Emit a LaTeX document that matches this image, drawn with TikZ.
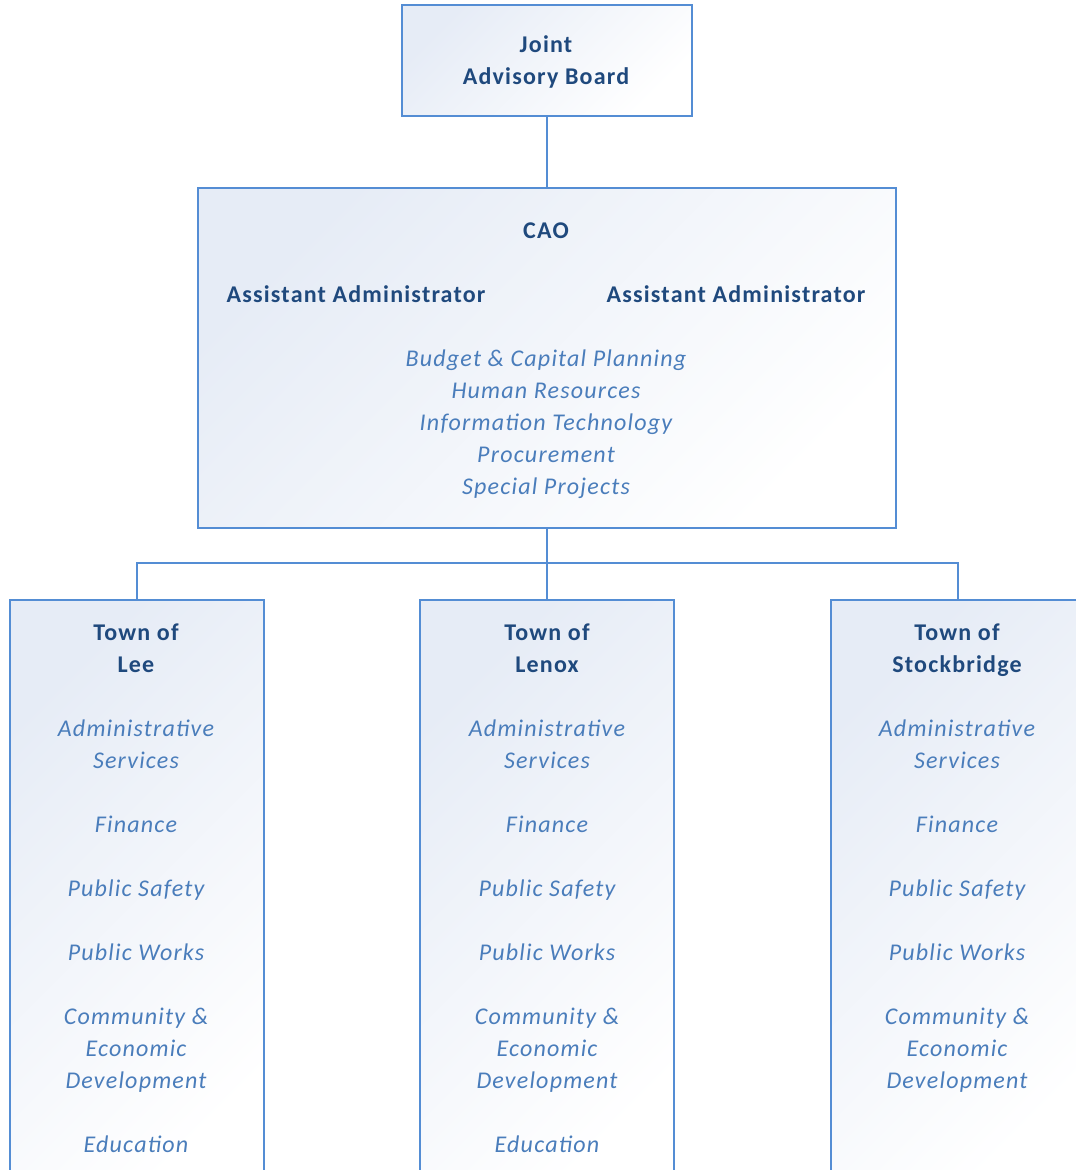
\documentclass[tikz,border=0pt]{standalone}
\usepackage{fontspec}
\setmainfont{Carlito}[LetterSpace=5]
\definecolor{bordc}{RGB}{84,141,212}
\definecolor{headc}{RGB}{31,73,125}
\definecolor{itc}{RGB}{74,125,187}
\definecolor{gradc}{RGB}{230,236,246}
\newcommand\nl{\\\strut}
\begin{document}
\begin{tikzpicture}[x=1pt,y=-1pt,
  box/.style={draw=bordc,line width=1.6pt,rectangle,anchor=north west,inner sep=0pt,
    top color=gradc,bottom color=white,shading angle=45},
  conn/.style={draw=bordc,line width=1.6pt},
  head/.style={font=\fontsize{24}{32}\selectfont\bfseries,text=headc,align=center,inner sep=0pt,
    execute at begin node=\strut},
  item/.style={font=\fontsize{24}{32}\selectfont\itshape,text=itc,align=center,inner sep=0pt,
    execute at begin node=\strut}]
\useasboundingbox (0,0) rectangle (1076,1170);
\fill[white] (0,0) rectangle (1076,1170);
% boxes
\node[box,minimum width=290,minimum height=111] (jab) at (401,4) {};
\node[box,minimum width=698,minimum height=340] (cao) at (197,187) {};
\node[box,minimum width=254,minimum height=600] (lee) at (9,599) {};
\node[box,minimum width=254,minimum height=600] (lenox) at (419,599) {};
\node[box,minimum width=254,minimum height=600] (stock) at (830,599) {};
% connectors
\coordinate (bus) at (546,563);
\draw[conn] (jab.south) -- (cao.north);
\draw[conn] (cao.south) -- (lenox.north);
\draw[conn] (lee.north) -- (lee.north |- bus) -- (stock.north |- bus) -- (stock.north);
% texts
\node[head] (tjab) at (546,64.6) {Joint\nl Advisory Board};
\node[head] (tcao) at (546,231.6) {CAO};
\node[head] (taa1) at (356,295.6) {Assistant Administrator};
\node[head] (taa2) at (736,295.6) {Assistant Administrator};
\node[item] (tcaoitems) at (546,426.6) {Budget \& Capital Planning\nl Human Resources\nl Information Technology\nl Procurement\nl Special Projects};
\foreach \nm/\cx/\town in {lee/136/Lee,lenox/547/Lenox,stock/957/Stockbridge}{
  \node[head] (h\nm) at (\cx,652.6) {Town of\nl \town};
  \node[item] (a\nm) at (\cx,748.6) {Administrative\nl Services};
  \node[item] (f\nm) at (\cx,825.6) {Finance};
  \node[item] (s\nm) at (\cx,889.6) {Public Safety};
  \node[item] (w\nm) at (\cx,953.6) {Public Works};
  \node[item] (c\nm) at (\cx,1052.6) {Community \&\nl Economic\nl Development};
}
\node[item] (elee) at (136,1145.6) {Education};
\node[item] (elenox) at (547,1145.6) {Education};
\end{tikzpicture}
\end{document}
